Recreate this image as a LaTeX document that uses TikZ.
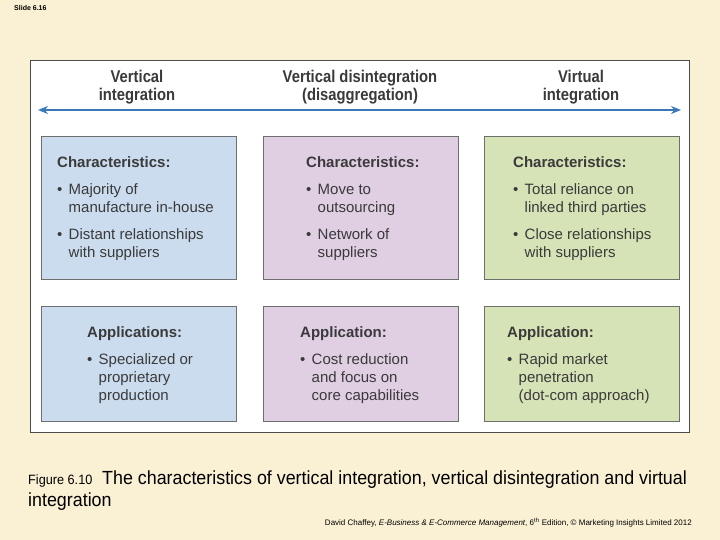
\documentclass[tikz,border=0pt]{standalone}
\usepackage{fontspec}
\setmainfont{Liberation Sans}
\newfontfamily\narrowsf[FakeStretch=0.87]{Liberation Sans}
\newfontfamily\captionsf[FakeStretch=0.94]{Liberation Sans}
\usetikzlibrary{positioning}
\usetikzlibrary{arrows.meta}
\definecolor{slidebg}{HTML}{FAF0D4}
\definecolor{inkgray}{HTML}{3A3A3A}
\definecolor{cellrule}{HTML}{6E6E6E}
\definecolor{axisblue}{HTML}{3B78B8}
\definecolor{vertblue}{HTML}{CCDCEF}
\definecolor{disapurple}{HTML}{E0CEE3}
\definecolor{virtgreen}{HTML}{D6E3B6}
\newcommand{\itembul}{\makebox[11.5pt][l]{\textbullet}}
\newcommand{\itemgap}{\hspace*{11.5pt}}

\begin{document}
\begin{tikzpicture}[x=1pt, y=-1pt,
  cellbox/.style={draw=cellrule, line width=0.9pt, inner sep=0pt,
    anchor=north west, minimum width=195pt},
  rowone/.style={cellbox, minimum height=143pt},
  rowtwo/.style={cellbox, minimum height=115pt},
  celltext/.style={font=\fontsize{15}{18}\selectfont, text=inkgray,
    align=left, inner sep=0pt, anchor=north west},
  axislabel/.style={font=\narrowsf\bfseries\fontsize{17}{18}\selectfont,
    text=inkgray, align=center, inner sep=0pt}]
  % slide and the white figure panel
  \fill[slidebg] (0,0) rectangle (720,540);
  \useasboundingbox (0,0) rectangle (720,540);
  \node[font=\bfseries\fontsize{7}{8}\selectfont, anchor=west, inner sep=0pt]
    (slideno) at (14,8) {Slide 6.16};
  \node[draw=black!70, line width=0.8pt, fill=white, anchor=north west,
    minimum width=659pt, minimum height=372pt, inner sep=0pt]
    (panel) at (30,60) {};
  % ---------- the scale from vertical to virtual ----------
  \coordinate (axisleft) at (38,110);
  \coordinate (axisright) at (681,110);
  \draw[axisblue, line width=2pt,
    {Stealth[length=10pt,width=8pt]}-{Stealth[length=10pt,width=8pt]}]
    (axisleft) -- (axisright);
  \node[axislabel] (vertlabel) at (137,87) {Vertical\\integration};
  \node[axislabel] (disalabel) at (360,87)
    {Vertical disintegration\\(disaggregation)};
  \node[axislabel] (virtlabel) at (581,87) {Virtual\\integration};
  % ---------- characteristics row ----------
  \node[rowone, fill=vertblue] (vertchar) at (41,136) {};
  \node[rowone, fill=disapurple] (disachar) at (263,136) {};
  \node[rowone, fill=virtgreen] (virtchar) at (484,136) {};
  \node[celltext] (vertchartext) at ([shift={(16pt,-20pt)}]vertchar.north west)
    {\textbf{Characteristics:}\\[9pt]
     \itembul Majority of\\\itemgap manufacture in-house\\[9pt]
     \itembul Distant relationships\\\itemgap with suppliers};
  \node[celltext] (disachartext) at ([shift={(43pt,-20pt)}]disachar.north west)
    {\textbf{Characteristics:}\\[9pt]
     \itembul Move to\\\itemgap outsourcing\\[9pt]
     \itembul Network of\\\itemgap suppliers};
  \node[celltext] (virtchartext) at ([shift={(29pt,-20pt)}]virtchar.north west)
    {\textbf{Characteristics:}\\[9pt]
     \itembul Total reliance on\\\itemgap linked third parties\\[9pt]
     \itembul Close relationships\\\itemgap with suppliers};
  % ---------- applications row ----------
  \node[rowtwo, fill=vertblue] (vertapp) at (41,306) {};
  \node[rowtwo, fill=disapurple] (disaapp) at (263,306) {};
  \node[rowtwo, fill=virtgreen] (virtapp) at (484,306) {};
  \node[celltext] (vertapptext) at ([shift={(46pt,-20.5pt)}]vertapp.north west)
    {\textbf{Applications:}\\[9pt]
     \itembul Specialized or\\\itemgap proprietary\\\itemgap production};
  \node[celltext] (disaapptext) at ([shift={(37pt,-20.5pt)}]disaapp.north west)
    {\textbf{Application:}\\[9pt]
     \itembul Cost reduction\\\itemgap and focus on\\\itemgap core capabilities};
  \node[celltext] (virtapptext) at ([shift={(23pt,-20.5pt)}]virtapp.north west)
    {\textbf{Application:}\\[9pt]
     \itembul Rapid market\\\itemgap penetration\\\itemgap (dot-com approach)};
  % ---------- caption and source ----------
  \node[font=\captionsf\fontsize{13.5}{16}\selectfont, anchor=base west,
    inner sep=0pt] (fignum) at (28,484) {Figure 6.10};
  \node[font=\captionsf\fontsize{19}{22}\selectfont, anchor=base west,
    inner sep=0pt] (figtitle) at (102,484)
    {The characteristics of vertical integration, vertical disintegration and virtual};
  \node[font=\captionsf\fontsize{19}{22}\selectfont, anchor=base west,
    inner sep=0pt] (figtitlecont) at (28,506) {integration};
  \node[font=\fontsize{8}{9}\selectfont, anchor=base east,
    inner sep=0pt] (source) at (692,525)
    {David Chaffey, \textit{E-Business \& E-Commerce Management}, 6\textsuperscript{th} Edition, \copyright\ Marketing Insights Limited 2012};
\end{tikzpicture}
\end{document}
